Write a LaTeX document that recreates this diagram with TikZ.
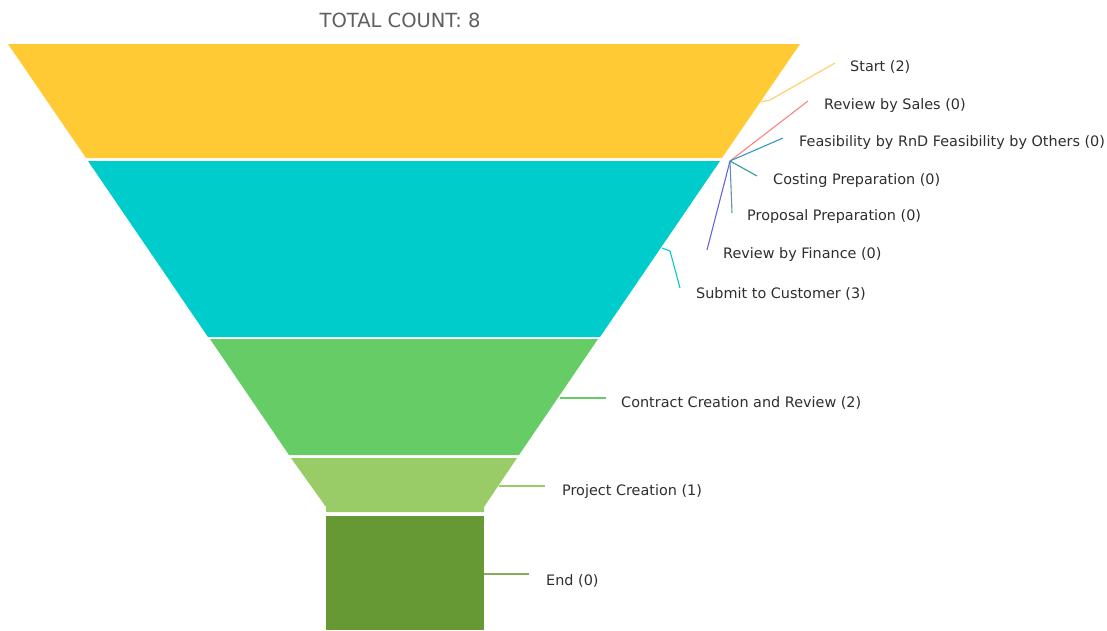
\documentclass[tikz,border=0pt]{standalone}
\usepackage{fontspec}
\setmainfont{DejaVu Sans}
\usepackage{xcolor}
\definecolor{fyellow}{HTML}{FFCA33}
\definecolor{fteal}{HTML}{00CCCC}
\definecolor{fgreen}{HTML}{66CC66}
\definecolor{flime}{HTML}{99CC66}
\definecolor{folive}{HTML}{669933}
\definecolor{lstart}{HTML}{FFCC66}
\definecolor{lsales}{HTML}{FF8080}
\definecolor{lfeas}{HTML}{3399CC}
\definecolor{lcost}{HTML}{339999}
\definecolor{lprop}{HTML}{5A96AA}
\definecolor{lfin}{HTML}{6666D6}
\definecolor{lblgray}{HTML}{2E2E2E}
\definecolor{titlegray}{HTML}{5F5F5F}
\tikzset{lbl/.style={anchor=west, inner sep=0pt, text=lblgray, font=\fontsize{14.4}{17}\selectfont},
  ldr/.style={line width=1.1pt}}

\begin{document}
\begin{tikzpicture}[x=1pt,y=-1pt]
  \useasboundingbox (0,0) rectangle (1107,630);
  \node[font=\fontsize{19.5}{23}\selectfont, text=titlegray] (title) at (400,20) {TOTAL COUNT: 8};

  % funnel
  \path[fill=fyellow] (8,44)--(800,44)--(722,158)--(86,158)--cycle;
  \path[fill=fteal] (88,161)--(720,161)--(600,337)--(208,337)--cycle;
  \path[fill=fgreen] (210,339)--(598,339)--(519,455)--(289,455)--cycle;
  \path[fill=flime] (291,458)--(517,458)--(484,507)--(484,512)--(326,512)--(326,507)--cycle;
  \path[fill=folive] (326,516) rectangle (484,630);

  % labels
  \node[lbl] (start) at (850,67) {Start (2)};
  \node[lbl] (sales) at (824,106) {Review by Sales (0)};
  \node[lbl] (feas) at (799,143) {Feasibility by RnD Feasibility by Others (0)};
  \node[lbl] (cost) at (773,181) {Costing Preparation (0)};
  \node[lbl] (prop) at (747,217) {Proposal Preparation (0)};
  \node[lbl] (fin) at (723,255) {Review by Finance (0)};
  \node[lbl] (submit) at (696,294) {Submit to Customer (3)};
  \node[lbl] (contract) at (621,403) {Contract Creation and Review (2)};
  \node[lbl] (project) at (562,492) {Project Creation (1)};
  \node[lbl] (end) at (546,581) {End (0)};

  % leader lines
  \coordinate (hub) at (730,161);
  \coordinate (start-a) at (761,102);
  \coordinate (start-b) at (835,63);
  \coordinate (sales-b) at (808,101);
  \coordinate (feas-b) at (783,138);
  \coordinate (cost-b) at (757,176);
  \coordinate (prop-b) at (732,213);
  \coordinate (fin-b) at (707,250);
  \coordinate (submit-a) at (662,248);
  \coordinate (submit-b) at (680,288);
  \coordinate (contract-a) at (560,398);
  \coordinate (contract-b) at (606,398);
  \coordinate (project-a) at (499,486);
  \coordinate (project-b) at (545,486);
  \coordinate (end-a) at (484,574);
  \coordinate (end-b) at (529,574);

  \draw[ldr,lstart] (start-a) -- (770,100) -- (start-b);
  \draw[ldr,lsales] (hub) -- (sales-b);
  \draw[ldr,lfeas] (hub) -- (feas-b);
  \draw[ldr,lcost] (hub) -- (cost-b);
  \draw[ldr,lprop] (hub) -- (prop-b);
  \draw[ldr,lfin] (hub) -- (fin-b);
  \draw[ldr,fteal] (submit-a) -- (670,251) -- (submit-b);
  \draw[ldr,fgreen] (contract-a) -- (contract-b);
  \draw[ldr,flime] (project-a) -- (project-b);
  \draw[ldr,folive!80] (end-a) -- (end-b);
\end{tikzpicture}
\end{document}
